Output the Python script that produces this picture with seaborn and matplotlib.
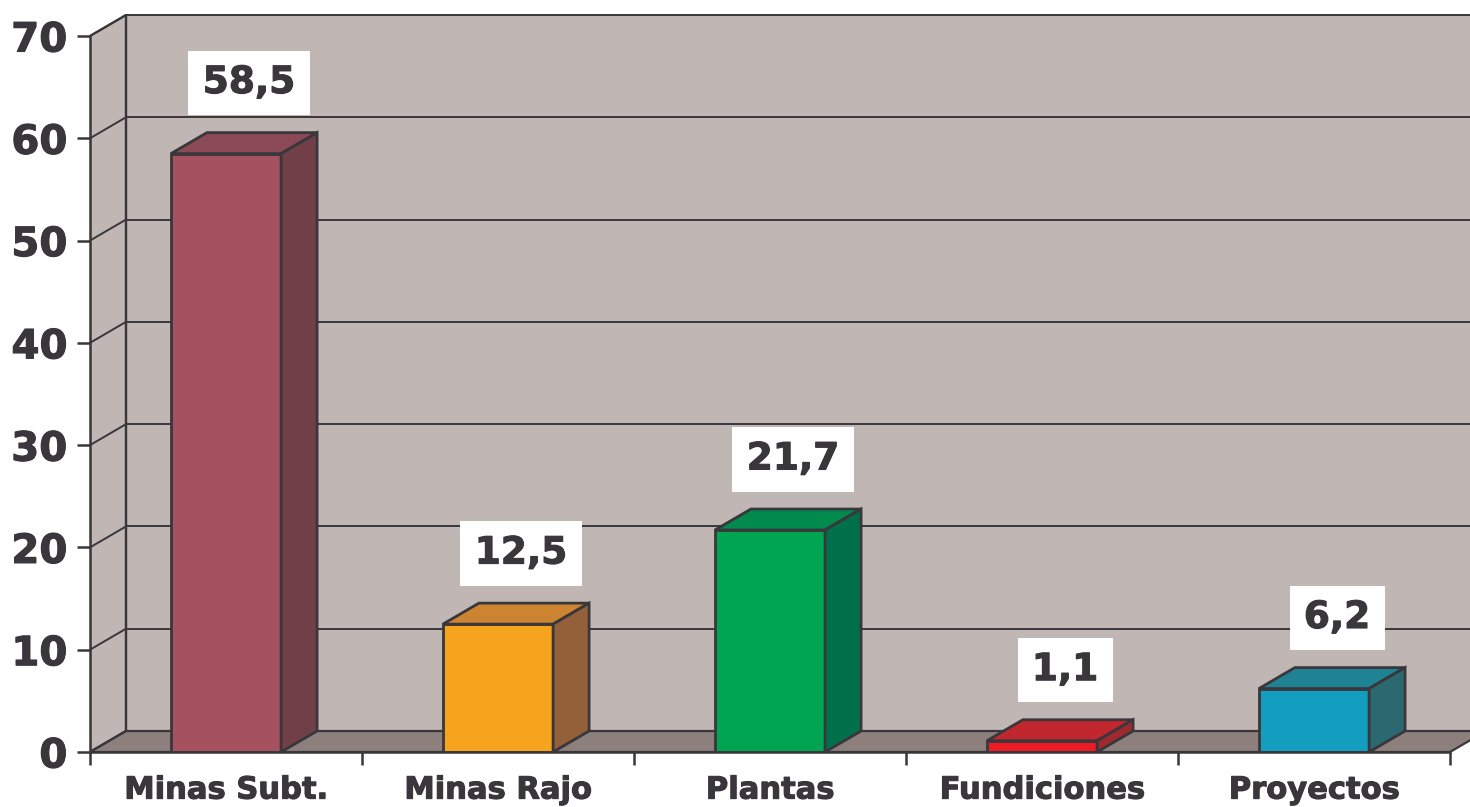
import numpy as np
import matplotlib
matplotlib.use("Agg")
import matplotlib.pyplot as plt
import matplotlib.patheffects as pe
import seaborn as sns
from matplotlib.patches import Polygon, Rectangle

# ---- data ----
categories = ["Minas Subt.", "Minas Rajo", "Plantas", "Fundiciones", "Proyectos"]
values = [58.5, 12.5, 21.7, 1.1, 6.2]
value_labels = ["58,5", "12,5", "21,7", "1,1", "6,2"]
yticks = [0, 10, 20, 30, 40, 50, 60, 70]

front_colors = ["#A5515F", "#F6A41E", "#00A551", "#ED1C24", "#139EBF"]
top_colors = ["#8B4A55", "#CC8430", "#008A4C", "#C1272D", "#1F8394"]
side_colors = ["#703F48", "#93603A", "#00704A", "#9E2A2F", "#2C6870"]

wall_color = "#C0B7B4"
floor_color = "#8D807C"
ink = "#39373B"

sns.set_theme(style="ticks")
plt.rcParams['font.family'] = ['DejaVu Sans']

W, H = 1470, 807
fig = plt.figure(figsize=(W / 100, H / 100), dpi=100)
ax = fig.add_axes([90 / W, 55 / H, 1380 / W, 738 / H])

px_per_cat = 272.0
px_per_unit = 716.0 / 70.0
dx = 36.0 / px_per_cat
dy = 21.0 / px_per_unit
xmin, xmax = -0.5, -0.5 + 1380.0 / px_per_cat
ymax = 738.0 / px_per_unit
n = len(categories)
heavy = [pe.withStroke(linewidth=0.8, foreground=ink)]

# ---- walls & floor ----
ax.add_patch(Polygon([(xmin + dx, dy), (xmax + 1, dy), (xmax + 1, 70 + dy), (xmin + dx, 70 + dy)],
                     closed=True, facecolor=wall_color, edgecolor="none", zorder=0))
ax.add_patch(Polygon([(xmin, 0), (xmin, 70), (xmin + dx, 70 + dy), (xmin + dx, dy)],
                     closed=True, facecolor=wall_color, edgecolor=ink, lw=1.6, zorder=0.5))
ax.add_patch(Polygon([(xmin, 0), (n - 0.5, 0), (n - 0.5 + dx, dy), (xmin + dx, dy)],
                     closed=True, facecolor=floor_color, edgecolor=ink, lw=1.6, zorder=0.5))
for t in yticks:
    ax.plot([xmin + dx, xmax + 1], [t + dy, t + dy], color=ink, lw=1.4, zorder=1, clip_on=(t != 70))
    ax.plot([xmin, xmin + dx], [t, t + dy], color=ink, lw=1.4, zorder=1, clip_on=False)
ax.plot([xmin + dx, xmin + dx], [dy, 70 + dy], color=ink, lw=1.6, zorder=1, clip_on=False)

# ---- bars (front faces via seaborn) ----
n_before = len(ax.patches)
sns.barplot(x=categories, y=values, hue=categories, palette=front_colors, saturation=1,
            width=0.405, edgecolor=ink, linewidth=2.0, legend=False, ax=ax, zorder=3)

bars = [p for p in ax.patches[n_before:] if isinstance(p, Rectangle) and p.get_height() > 0]
bars.sort(key=lambda p: p.get_x())
for i, p in enumerate(bars):
    x0, w, h = p.get_x(), p.get_width(), p.get_height()
    ax.add_patch(Polygon([(x0, h), (x0 + w, h), (x0 + w + dx, h + dy), (x0 + dx, h + dy)],
                         closed=True, facecolor=top_colors[i], edgecolor=ink, lw=2.0, zorder=3))
    ax.add_patch(Polygon([(x0 + w, 0), (x0 + w + dx, dy), (x0 + w + dx, h + dy), (x0 + w, h)],
                         closed=True, facecolor=side_colors[i], edgecolor=ink, lw=2.0, zorder=3))
    ax.text(x0 + w / 2 + 0.085, h + 6.9, value_labels[i], ha="center", va="center",
            fontsize=27, fontweight="bold", color=ink, zorder=5, path_effects=heavy,
            bbox=dict(boxstyle="square,pad=0.38", facecolor="white", edgecolor="none"))

# ---- axes ----
ax.set_xlim(xmin, xmax)
ax.set_ylim(0, ymax)
ax.set_xlabel("")
ax.set_ylabel("")
ax.set_yticks(yticks)
ax.set_yticklabels([str(t) for t in yticks], fontsize=29, fontweight="bold", color=ink)
ax.set_xticks(np.arange(-0.5, n, 1.0))
ax.set_xticklabels([])
ax.set_xticks(np.arange(n), minor=True)
ax.set_xticklabels(categories, minor=True, fontsize=22, fontweight="bold", color=ink)
for lab in ax.get_yticklabels() + ax.get_xticklabels(minor=True):
    lab.set_path_effects(heavy)
ax.tick_params(axis="y", left=True, length=9.4, width=1.8, pad=7, color=ink)
ax.tick_params(axis="x", which="major", bottom=True, length=9, width=1.8, color=ink)
ax.tick_params(axis="x", which="minor", bottom=True, length=0, pad=17)

for s in ["top", "right"]:
    ax.spines[s].set_visible(False)
ax.spines["left"].set_bounds(0, 70)
ax.spines["bottom"].set_bounds(-0.5, n - 0.5)
for s in ["left", "bottom"]:
    ax.spines[s].set_color(ink)
    ax.spines[s].set_linewidth(1.8)
    ax.spines[s].set_zorder(4)
ax.set_facecolor("none")
ax.grid(False)

fig.savefig("out.png", dpi=100, facecolor="white")
